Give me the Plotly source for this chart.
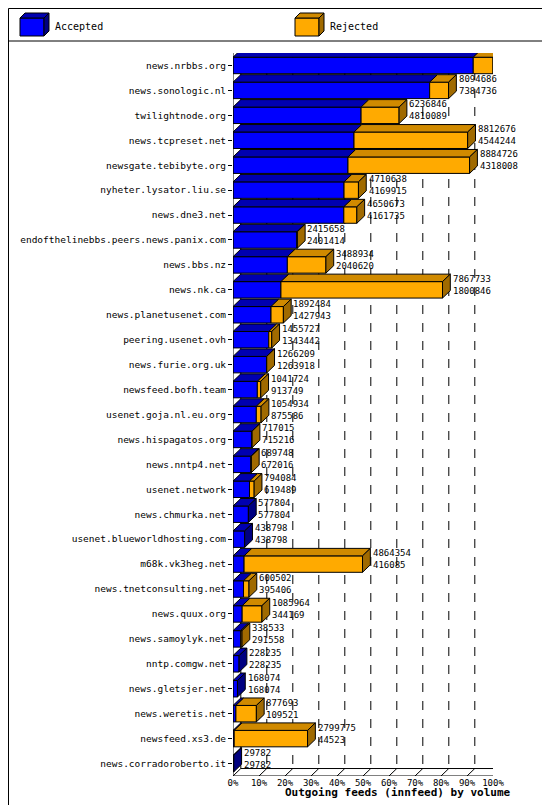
import plotly.graph_objects as go

# innfeed outgoing feeds: total offered and accepted articles per peer
peers = ["news.nrbbs.org", "news.sonologic.nl", "twilightnode.org", "news.tcpreset.net",
         "newsgate.tebibyte.org", "nyheter.lysator.liu.se", "news.dne3.net",
         "endofthelinebbs.peers.news.panix.com", "news.bbs.nz", "news.nk.ca",
         "news.planetusenet.com", "peering.usenet.ovh", "news.furie.org.uk",
         "newsfeed.bofh.team", "usenet.goja.nl.eu.org", "news.hispagatos.org",
         "news.nntp4.net", "usenet.network", "news.chmurka.net",
         "usenet.blueworldhosting.com", "m68k.vk3heg.net", "news.tnetconsulting.net",
         "news.quux.org", "news.samoylyk.net", "nntp.comgw.net", "news.gletsjer.net",
         "news.weretis.net", "newsfeed.xs3.de", "news.corradoroberto.it"]
offered = [9763936, 8094686, 6236846, 8812676, 8884726, 4710638, 4650673, 2415658,
           3488934, 7867733, 1892484, 1455727, 1266209, 1041724, 1054934, 717015,
           689748, 794084, 577804, 438798, 4864354, 600502, 1085964, 338533, 228235,
           168074, 877693, 2799775, 29782]
accepted = [9021961, 7384736, 4810089, 4544244, 4318008, 4169915, 4161735, 2401414,
            2040620, 1800846, 1427943, 1343442, 1263918, 913749, 875586, 715216,
            672016, 619489, 577804, 438798, 416085, 395406, 344169, 291558, 228235,
            168074, 109521, 44523, 29782]
pct_ticks = [0, 10, 20, 30, 40, 50, 60, 70, 80, 90, 100]

BLUE, BLUE_TOP, BLUE_SIDE = "#0000ff", "#0000b0", "#000080"
ORG, ORG_TOP, ORG_SIDE = "#ffaa00", "#d08a00", "#a06a00"
MONO = "DejaVu Sans Mono"
h, dx, dy = 0.66, 3.0, 0.3
vmax = max(offered)

fig = go.Figure()

def poly(xs, ys, fill):
    fig.add_trace(go.Scatter(x=xs, y=ys, mode="lines", fill="toself", fillcolor=fill,
                             line=dict(color="black", width=1), hoverinfo="skip",
                             showlegend=False))

# back wall dashed gridlines and floor
shapes = []
ybot = len(peers) - 0.5
ytop = -0.5
for p in pct_ticks:
    shapes.append(dict(type="line", x0=p + dx, x1=p + dx, y0=ytop, y1=ybot - dy, layer="below",
                       line=dict(color="black", width=1, dash="dash" if p else "solid")))
    shapes.append(dict(type="line", x0=p, x1=p + dx, y0=ybot, y1=ybot - dy,
                       line=dict(color="black", width=1)))
shapes.append(dict(type="line", x0=0, x1=0, y0=ytop, y1=ybot, line=dict(color="black", width=1)))
shapes.append(dict(type="line", x0=0, x1=100, y0=ybot, y1=ybot, line=dict(color="black", width=1)))
shapes.append(dict(type="line", x0=dx, x1=100 + dx, y0=ybot - dy, y1=ybot - dy,
                   line=dict(color="black", width=1)))

annotations = []
for i, (t, a) in enumerate(zip(offered, accepted)):
    xa = a / vmax * 100
    xt = t / vmax * 100
    yt, yb = i - h / 2, i + h / 2
    segs = [(0, xa, BLUE, BLUE_TOP)]
    if xt > xa:
        segs.append((xa, xt, ORG, ORG_TOP))
    for x0, x1, c, ct in segs:
        poly([x0, x1, x1, x0, x0], [yt, yt, yb, yb, yt], c)
        poly([x0, x1, x1 + dx, x0 + dx, x0], [yt, yt, yt - dy, yt - dy, yt], ct)
    side = ORG_SIDE if xt > xa else BLUE_SIDE
    poly([xt, xt + dx, xt + dx, xt, xt], [yt, yt - dy, yb - dy, yb, yt], side)
    annotations.append(dict(x=xt + dx + 0.5, y=i - 0.2, xref="x", yref="y",
                            text=f"{t}<br>{a}", showarrow=False, xanchor="left",
                            yanchor="middle", align="left", borderpad=0,
                            font=dict(family=MONO, size=9, color="black")))

# pixel -> paper helpers for the legend header
L, R, T, B, W, H = 225, 65, 45, 37, 550, 805
pw, ph = W - L - R, H - T - B
def px(x): return (x - L) / pw
def py(y): return (H - B - y) / ph

for x0, c, ct, cs, name in [(12, BLUE, BLUE_TOP, BLUE_SIDE, "Accepted"),
                            (287, ORG, ORG_TOP, ORG_SIDE, "Rejected")]:
    shapes.append(dict(type="rect", xref="paper", yref="paper", x0=px(x0), x1=px(x0 + 24),
                       y0=py(28), y1=py(10), fillcolor=c, line=dict(color="black", width=1)))
    shapes.append(dict(type="path", xref="paper", yref="paper",
                       path=f"M {px(x0)} {py(10)} L {px(x0 + 24)} {py(10)} L {px(x0 + 29)} {py(5)} L {px(x0 + 5)} {py(5)} Z",
                       fillcolor=ct, line=dict(color="black", width=1)))
    shapes.append(dict(type="path", xref="paper", yref="paper",
                       path=f"M {px(x0 + 24)} {py(10)} L {px(x0 + 29)} {py(5)} L {px(x0 + 29)} {py(23)} L {px(x0 + 24)} {py(28)} Z",
                       fillcolor=cs, line=dict(color="black", width=1)))
    annotations.append(dict(x=px(x0 + 33), y=py(19), xref="paper", yref="paper", text=name,
                            showarrow=False, xanchor="left", yanchor="middle",
                            font=dict(family=MONO, size=10, color="black")))
shapes.append(dict(type="line", xref="paper", yref="paper", x0=px(0), x1=px(549),
                   y0=py(33), y1=py(33), line=dict(color="black", width=1)))
shapes.append(dict(type="rect", xref="paper", yref="paper", x0=px(0.5), x1=px(549.5),
                   y0=py(804.5), y1=py(0.5), line=dict(color="black", width=1)))
annotations.append(dict(x=px(275), y=py(793), xref="paper", yref="paper",
                        text="<b>Outgoing feeds (innfeed) by volume</b>", showarrow=False,
                        font=dict(family=MONO, size=11, color="black")))

fig.update_layout(
    width=W, height=H, margin=dict(l=L, r=R, t=T, b=B),
    paper_bgcolor="white", plot_bgcolor="white", showlegend=False,
    shapes=shapes, annotations=annotations,
    xaxis=dict(range=[0, 100], tickvals=pct_ticks, ticktext=[f"{p}%" for p in pct_ticks],
               showgrid=False, zeroline=False, showline=False, ticks="", automargin=False,
               tickfont=dict(family=MONO, size=9, color="black")),
    yaxis=dict(range=[ybot, ytop], tickvals=list(range(len(peers))), ticktext=peers,
               showgrid=False, zeroline=False, showline=False, ticks="outside",
               ticklen=4, tickcolor="black", automargin=False,
               tickfont=dict(family=MONO, size=9.5, color="black")),
)
fig.write_html("out.html")
